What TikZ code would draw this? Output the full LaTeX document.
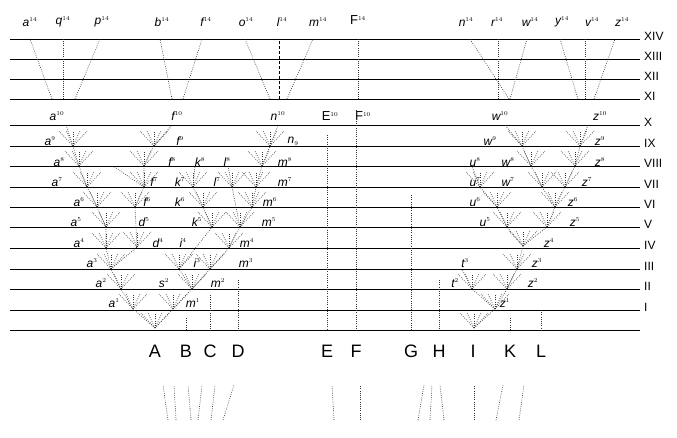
\documentclass[tikz,border=0pt]{standalone}
\usepackage{fontspec}
\setmainfont{Liberation Sans}
\begin{document}
\begin{tikzpicture}[x=1pt,y={(0,-1pt)},
  hl/.style={line width=0.8pt,black},
  dt/.style={dash pattern=on 0.8pt off 1.4pt,line width=0.6pt,black!80},
  lab/.style={font=\itshape\fontsize{12}{12}\selectfont,inner sep=0pt},
  rom/.style={font=\fontsize{12}{12}\selectfont,anchor=west,inner sep=0pt},
  capl/.style={font=\fontsize{18}{18}\selectfont,inner sep=0pt}]
\useasboundingbox (0,0) rectangle (677,438);
\newcommand\fan[2]{\foreach \d in {-14,-7,0,7,14}{\draw[dt] (#1,#2) -- ++(\d,-15);}}
% horizontal lines
\foreach \y/\r in {39/XIV,59/XIII,79/XII,99/XI,125/X,146/IX,166/VIII,187/VII,207/VI,227/V,248/IV,269/III,289/II,310/I}{
  \draw[hl] (10,\y) -- (640,\y);
  \node[rom] at (644,\y-3) {\r};}
\draw[hl] (10,330) -- (640,330);
% top fans
\foreach \b/\t in {52/30,63/63,75/100,172/160,183/202,270/245,287/313,509/470,498/498,510/527,578/560,585/585,594/615}{
  \draw[dt] (\b,99) -- (\t,39);}
\draw[densely dashed,line width=0.5pt] (279,99) -- (279,39);
\draw[dt] (358,99) -- (358,39);
\foreach \x/\t in {30/a,63/q,102/p,162/b,206/f,246/o,282/l,318/m,466/n,497/r,530/w,562/y,592/v,622/z}{
  \node[lab] at (\x,22) {\t$^{\scriptscriptstyle 14}$};}
\node[font=\fontsize{13}{13}\selectfont,inner sep=0pt] at (358,20) {F$^{\scriptscriptstyle 14}$};
\node[font=\fontsize{13}{13}\selectfont,inner sep=0pt] at (330,116) {E$^{\scriptscriptstyle 10}$};
\node[font=\fontsize{13}{13}\selectfont,inner sep=0pt] at (363,116) {F$^{\scriptscriptstyle 10}$};
% vertical lines
\foreach \x/\y in {356/110,327/135,411/195,439/280,186/318,210/295,238/280,510/318,541/310}{
  \draw[dt] (\x,\y) -- (\x,330);}
% left tree lineages
\draw[dt] (155,328) -- (133,309) -- (121,289) -- (111,269) -- (106,248) -- (106,227) -- (97,207) -- (87,187) -- (79,166) -- (73,146) -- (66,125);
\draw[dt] (111,269) -- (137,247) -- (135,207) -- (144,187) -- (144,166) -- (154,146) -- (172,125);
\draw[dt] (144,187) -- (113,166);
\draw[dt] (155,328) -- (173,309) -- (192,289) -- (210,269) -- (229,248) -- (240,227) -- (252,207) -- (256,187) -- (262,166) -- (270,146) -- (278,125);
\draw[dt] (192,289) -- (179,269) -- (212,227) -- (203,207) -- (193,187) -- (195,166);
\draw[dt] (240,227) -- (232,187) -- (228,166);
% right tree lineages
\draw[dt] (474,328) -- (495,309) -- (507,289) -- (517,269) -- (523,246) -- (507,227) -- (497,207) -- (480,187) -- (472,166);
\draw[dt] (523,246) -- (547,227) -- (555,207) -- (542,187) -- (531,166) -- (522,146) -- (505,125);
\draw[dt] (555,207) -- (565,187) -- (575,166) -- (580,146) -- (588,125);
\draw[dt] (495,309) -- (472,289) -- (462,269);
% fans
\foreach \px/\py in {155/328,133/309,121/289,111/269,106/248,106/227,97/207,87/187,79/166,73/146,
  137/247,135/207,144/187,144/166,154/146,173/309,192/289,179/269,210/269,229/248,240/227,252/207,256/187,262/166,270/146,212/227,203/207,193/187,232/187,
  474/328,495/309,507/289,517/269,523/246,507/227,497/207,480/187,547/227,555/207,542/187,531/166,522/146,565/187,575/166,580/146,472/289}{
  \fan{\px}{\py}}
% labels
\foreach \x/\y/\t/\s in {57/116/a/10,177/116/f/10,278/116/n/10,50/141/a/9,180/141/f/9,59/162/a/8,172/162/f/8,200/162/k/8,227/162/l/8,285/162/m/8,
 57/182/a/7,154/182/f/7,180/182/k/7,217/182/l/7,285/182/m/7,79/202/a/6,147/202/f/6,180/202/k/6,270/202/m/6,
 76/222/a/5,144/222/d/5,197/222/k/5,269/222/m/5,79/243/a/4,158/243/d/4,183/243/i/4,247/243/m/4,92/263/a/3,197/263/i/3,246/263/m/3,
 101/283/a/2,164/283/s/2,218/283/m/2,114/303/a/1,193/303/m/1,
 500/116/w/10,600/116/z/10,490/141/w/9,600/141/z/9,475/162/u/8,508/162/w/8,600/162/z/8,475/182/u/7,508/182/w/7,587/182/z/7,
 475/202/u/6,573/202/z/6,485/222/u/5,575/222/z/5,549/243/z/4,465/263/t/3,537/263/z/3,455/283/t/2,533/283/z/2,505/303/z/1}{
  \node[lab] at (\x,\y) {\t$^{\scriptscriptstyle \s}$};}
\node[lab] at (293,141) {n$_{\scriptscriptstyle 9}$};
% capitals
\foreach \x/\t in {155/A,186/B,210/C,238/D,327/E,356/F,411/G,439/H,473/I,510/K,541/L}{
  \node[capl] at (\x,351) {\t};}
% bottom dotted lines
\foreach \a/\b in {168/163,176/174,191/188,198/202,211/215,223/234,334/332,360/360,418/424,430/432,444/440,474/474,496/503,519/524}{
  \draw[dt] (\a,420) -- (\b,385);}
\end{tikzpicture}
\end{document}
